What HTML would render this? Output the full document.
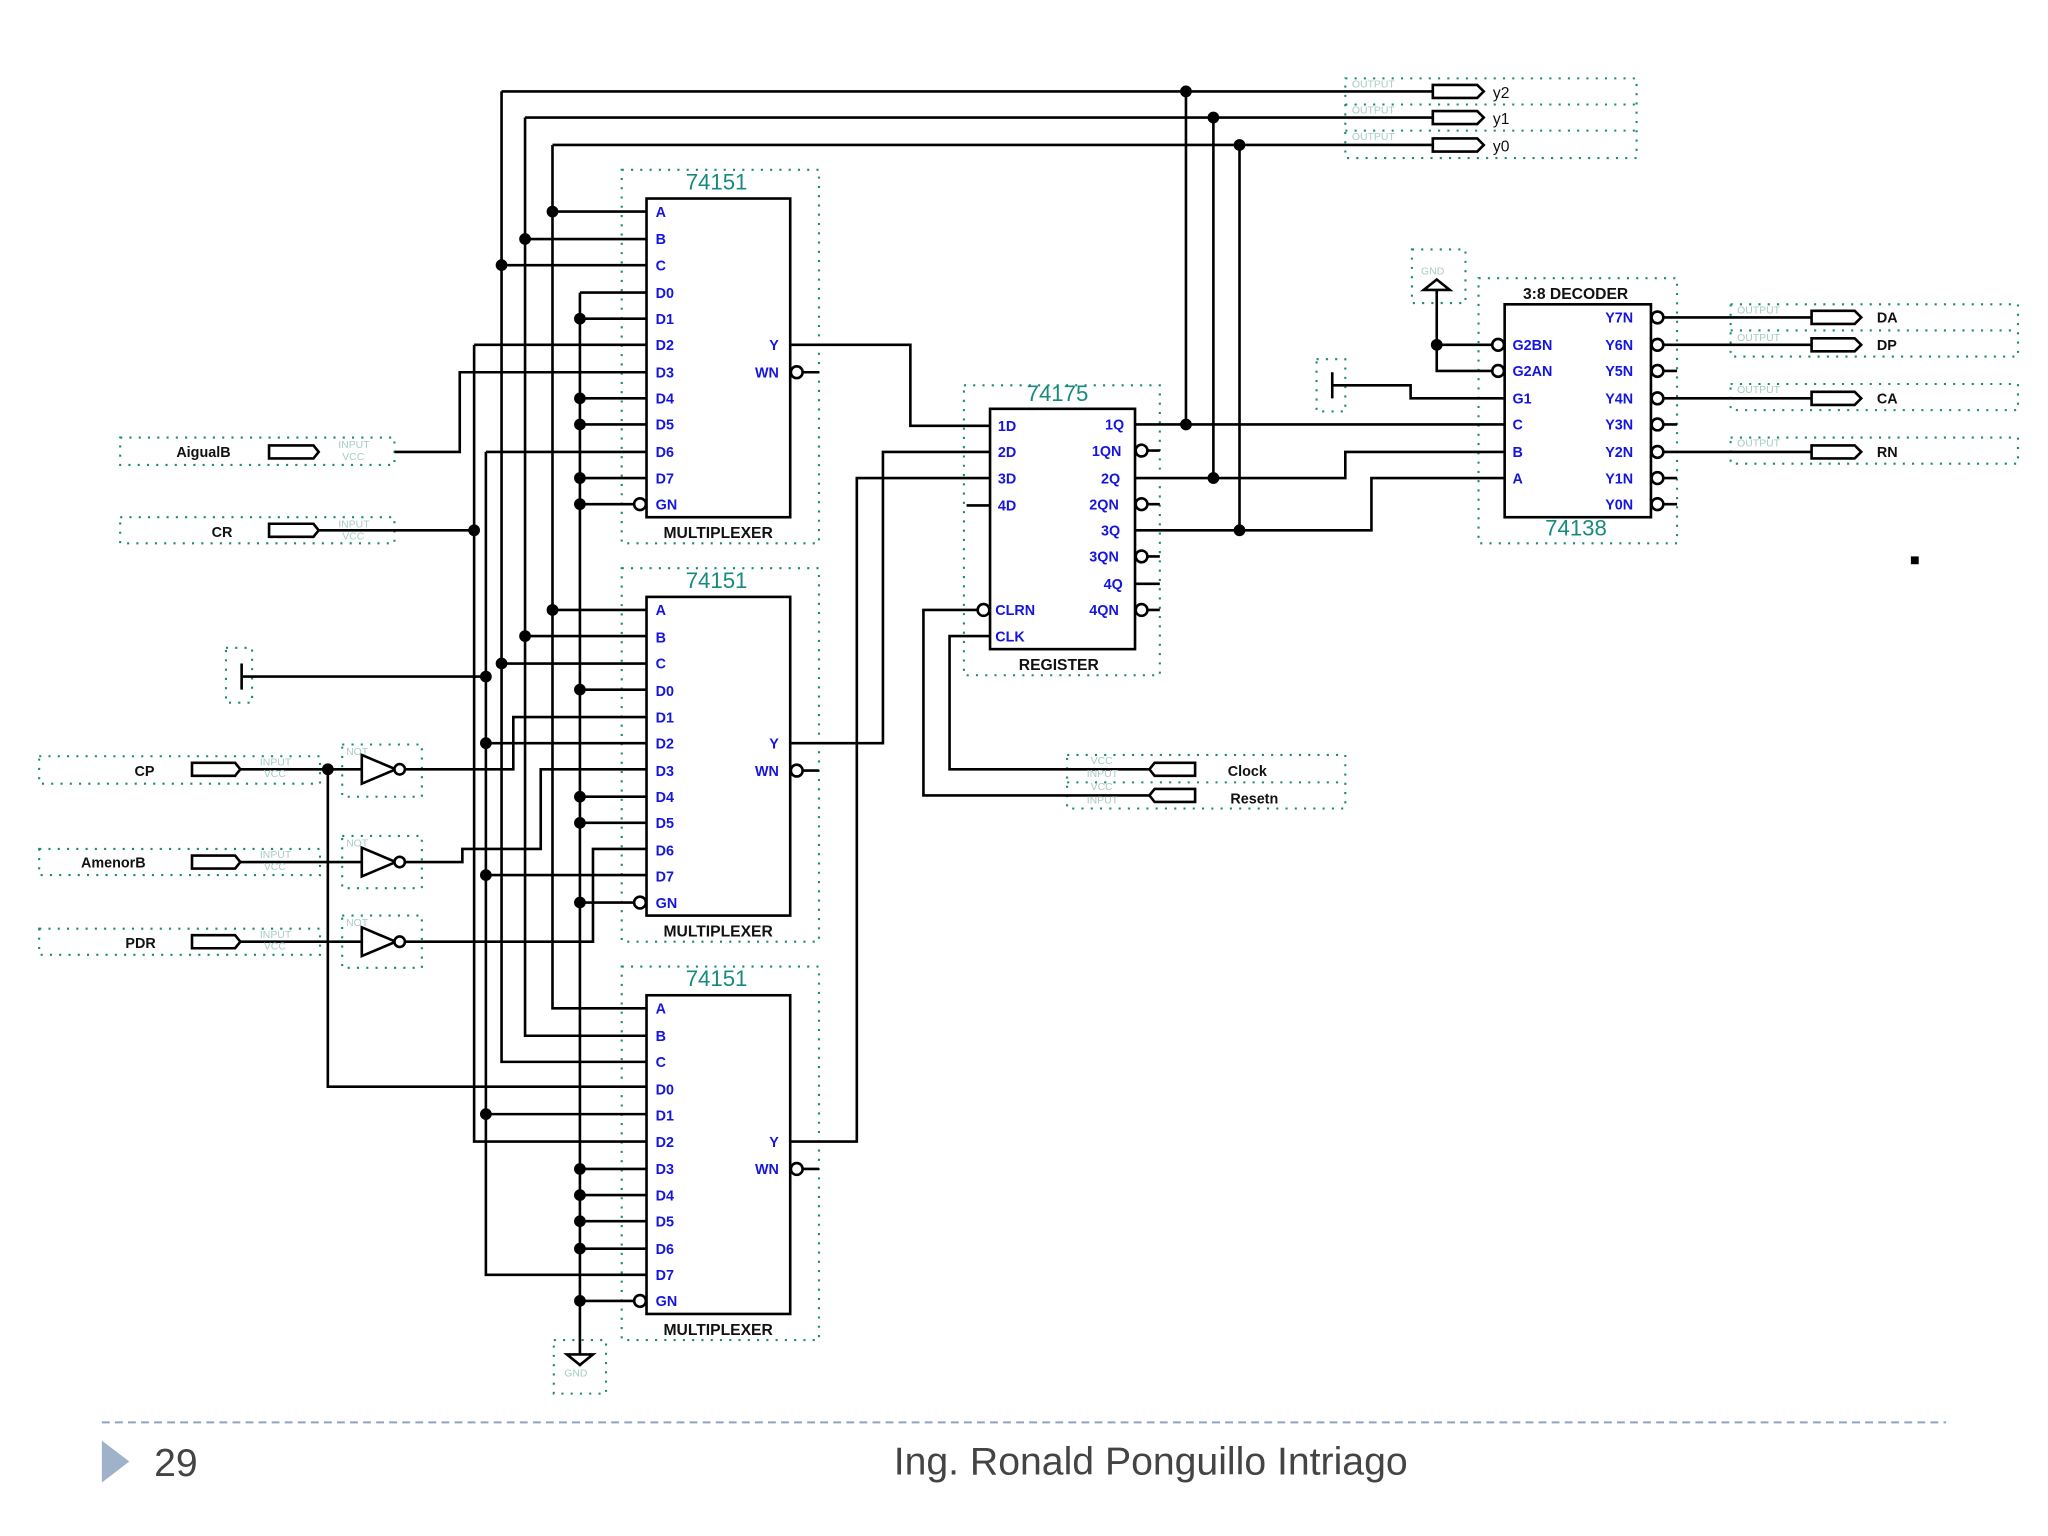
<!DOCTYPE html>
<html><head><meta charset="utf-8"><style>
html,body{margin:0;padding:0;background:#fff;}
svg{display:block}
.w{stroke:#000;stroke-width:2;fill:none}
.d{stroke:#1a8a78;stroke-width:1.6;fill:none;stroke-dasharray:1.6 5.5}
.b{stroke:#000;stroke-width:2;fill:#fff}
.bl{font-family:"Liberation Sans",sans-serif;font-size:11px;font-weight:bold;fill:#1515e0}
.bk{font-family:"Liberation Sans",sans-serif;font-size:12px;font-weight:bold;fill:#111}
.tl{font-family:"Liberation Sans",sans-serif;font-size:17px;fill:#178a80}
</style></head><body>
<svg width="2048" height="1536" viewBox="0 0 1568 1176" xmlns="http://www.w3.org/2000/svg">
<rect width="1568" height="1176" fill="#fff"/>
<!-- dotted component boxes -->
<g class="d">
<rect x="476" y="130" width="151" height="286"/>
<rect x="476" y="435" width="151" height="286"/>
<rect x="476" y="740" width="151" height="286"/>
<rect x="738" y="295" width="150" height="222"/>
<rect x="1132" y="213" width="152" height="203"/>
<rect x="1030" y="60" width="223" height="61"/><line x1="1030" y1="80" x2="1253" y2="80"/><line x1="1030" y1="100" x2="1253" y2="100"/>
<rect x="1081" y="191" width="41" height="41"/>
<rect x="1008" y="275" width="22" height="40"/>
<rect x="1325" y="233" width="220" height="40"/><line x1="1325" y1="253" x2="1545" y2="253"/>
<rect x="1325" y="294" width="220" height="20"/>
<rect x="1325" y="335" width="220" height="20"/>
<rect x="92" y="335" width="210" height="21"/>
<rect x="92" y="396" width="210" height="20"/>
<rect x="173" y="496" width="20" height="42"/>
<rect x="30" y="579" width="215" height="21"/>
<rect x="30" y="650" width="215" height="20"/>
<rect x="30" y="711" width="215" height="20"/>
<rect x="262" y="570" width="61" height="40"/>
<rect x="262" y="640" width="61" height="40"/>
<rect x="262" y="701" width="61" height="40"/>
<rect x="817" y="578" width="213" height="41"/><line x1="817" y1="599" x2="1030" y2="599"/>
<rect x="424" y="1026" width="40" height="41"/>
</g>

<!-- wires -->
<g class="w">
<!-- vertical buses -->
<path d="M384 70V813H495M402 90V793H495M423 111V772H495"/>
<path d="M444 224V1040M363 264V874H495M372 346V976H495M251 589V832H495"/>
<!-- top lines to outputs -->
<path d="M384 70H1097M402 90H1097M423 111H1097"/>
<!-- mux1 -->
<path d="M423 162H495M402 183H495M384 203H495M444 224H495M444 244H495M363 264H495M302 346H352V285H495M444 305H495M444 325H495M372 346H495M444 366H495M444 386H486"/>
<!-- mux2 -->
<path d="M423 467H495M402 487H495M384 508H495M444 528H495M372 569H495M444 610H495M444 630H495M372 670H495M444 691H486"/>
<path d="M310 589H393V549H495M310 660H354V650H414V589H495M310 721H454V650H495"/>
<!-- mux3 -->
<path d="M372 853H495M444 895H495M444 915H495M444 935H495M444 956H495M444 996H486"/>
<!-- inputs -->
<path d="M244 406H363M186 518H372M184 589H277M184 660H277M184 721H277"/>
<!-- mux outputs -->
<path d="M605 264H697V326H758M605 569H676V346H758M605 874H656V366H758M740 387H758"/>
<path d="M614 285H627M614 590H627M614 895H627"/>
<!-- register outputs -->
<path d="M869 325H1152M869 366H1030V346H1152M869 406H1050V366H1152"/>
<path d="M908 70V325M929 90V366M949 111V406"/>
<path d="M869 345H888M869 386H888M869 426H888M869 447H888M869 467H888"/>
<!-- clock / reset -->
<path d="M880 589H727V487H758M880 609H707V467H749"/>
<!-- decoder inputs -->
<path d="M1100 222V284H1143M1100 264H1143M1020 295H1080V305H1152"/>
<!-- decoder outputs -->
<path d="M1274 243H1387M1274 264H1387M1274 305H1387M1274 346H1387M1274 284H1284M1274 325H1284M1274 366H1284M1274 386H1284"/>
<!-- GND bottom -->
<path d="M444 1040V1046"/>
</g>

<!-- dots -->
<g fill="#000">
<circle cx="423" cy="162" r="4.5"/><circle cx="402" cy="183" r="4.5"/><circle cx="384" cy="203" r="4.5"/>
<circle cx="444" cy="244" r="4.5"/><circle cx="444" cy="305" r="4.5"/><circle cx="444" cy="325" r="4.5"/><circle cx="444" cy="366" r="4.5"/><circle cx="444" cy="386" r="4.5"/>
<circle cx="423" cy="467" r="4.5"/><circle cx="402" cy="487" r="4.5"/><circle cx="384" cy="508" r="4.5"/><circle cx="444" cy="528" r="4.5"/>
<circle cx="372" cy="569" r="4.5"/><circle cx="444" cy="610" r="4.5"/><circle cx="444" cy="630" r="4.5"/><circle cx="372" cy="670" r="4.5"/><circle cx="444" cy="691" r="4.5"/>
<circle cx="372" cy="853" r="4.5"/><circle cx="444" cy="895" r="4.5"/><circle cx="444" cy="915" r="4.5"/><circle cx="444" cy="935" r="4.5"/><circle cx="444" cy="956" r="4.5"/><circle cx="444" cy="996" r="4.5"/>
<circle cx="363" cy="406" r="4.5"/><circle cx="372" cy="518" r="4.5"/><circle cx="251" cy="589" r="4.5"/>
<circle cx="908" cy="70" r="4.5"/><circle cx="929" cy="90" r="4.5"/><circle cx="949" cy="111" r="4.5"/>
<circle cx="908" cy="325" r="4.5"/><circle cx="929" cy="366" r="4.5"/><circle cx="949" cy="406" r="4.5"/>
<circle cx="1100" cy="264" r="4.5"/>
<rect x="1463" y="426" width="6" height="6"/>
</g>

<!-- component bodies -->
<g class="b">
<rect x="495" y="152" width="110" height="244"/>
<rect x="495" y="457" width="110" height="244"/>
<rect x="495" y="762" width="110" height="244"/>
<rect x="758" y="313" width="111" height="184"/>
<rect x="1152" y="233" width="112" height="163"/>
<!-- bubbles -->
<circle cx="490" cy="386" r="4.5"/><circle cx="490" cy="691" r="4.5"/><circle cx="490" cy="996" r="4.5"/>
<circle cx="610" cy="285" r="4.5"/><circle cx="610" cy="590" r="4.5"/><circle cx="610" cy="895" r="4.5"/>
<circle cx="874" cy="345" r="4.5"/><circle cx="874" cy="386" r="4.5"/><circle cx="874" cy="426" r="4.5"/><circle cx="874" cy="467" r="4.5"/>
<circle cx="753" cy="467" r="4.5"/>
<circle cx="1147" cy="264" r="4.5"/><circle cx="1147" cy="284" r="4.5"/>
<circle cx="1269" cy="243" r="4.5"/><circle cx="1269" cy="264" r="4.5"/><circle cx="1269" cy="284" r="4.5"/><circle cx="1269" cy="305" r="4.5"/><circle cx="1269" cy="325" r="4.5"/><circle cx="1269" cy="346" r="4.5"/><circle cx="1269" cy="366" r="4.5"/><circle cx="1269" cy="386" r="4.5"/>
<!-- inverters -->
<path d="M277 578L303 589L277 600Z"/><circle cx="306" cy="589" r="4"/>
<path d="M277 649L303 660L277 671Z"/><circle cx="306" cy="660" r="4"/>
<path d="M277 710L303 721L277 732Z"/><circle cx="306" cy="721" r="4"/>
<!-- input pins -->
<path d="M206 341H240L244 346L240 351H206Z"/>
<path d="M206 401H240L244 406L240 411H206Z"/>
<path d="M147 584H180L184 589L180 594H147Z"/>
<path d="M147 655H180L184 660L180 665H147Z"/>
<path d="M147 716H180L184 721L180 726H147Z"/>
<path d="M880 589L884 584H915V594H884Z"/>
<path d="M880 609L884 604H915V614H884Z"/>
<!-- output pins -->
<path d="M1097 65H1131L1136 70L1131 75H1097Z"/>
<path d="M1097 85H1131L1136 90L1131 95H1097Z"/>
<path d="M1097 106H1131L1136 111L1131 116H1097Z"/>
<path d="M1387 238H1420L1425 243L1420 248H1387Z"/>
<path d="M1387 259H1420L1425 264L1420 269H1387Z"/>
<path d="M1387 300H1420L1425 305L1420 310H1387Z"/>
<path d="M1387 341H1420L1425 346L1420 351H1387Z"/>
<!-- gnd / vcc -->
<path d="M1090 222H1110L1100 214Z"/>
<path d="M434 1037H454L444 1045Z"/>
</g>
<g class="w"><path d="M185 508V528M1020 285V305"/></g>

<!-- mux labels -->
<g class="bl">
<text x="502" y="166">A</text><text x="502" y="187">B</text><text x="502" y="207">C</text><text x="502" y="228">D0</text><text x="502" y="248">D1</text><text x="502" y="268">D2</text><text x="502" y="289">D3</text><text x="502" y="309">D4</text><text x="502" y="329">D5</text><text x="502" y="350">D6</text><text x="502" y="370">D7</text><text x="502" y="390">GN</text><text x="589" y="268">Y</text><text x="578" y="289">WN</text>
<text x="502" y="471">A</text><text x="502" y="492">B</text><text x="502" y="512">C</text><text x="502" y="533">D0</text><text x="502" y="553">D1</text><text x="502" y="573">D2</text><text x="502" y="594">D3</text><text x="502" y="614">D4</text><text x="502" y="634">D5</text><text x="502" y="655">D6</text><text x="502" y="675">D7</text><text x="502" y="695">GN</text><text x="589" y="573">Y</text><text x="578" y="594">WN</text>
<text x="502" y="776">A</text><text x="502" y="797">B</text><text x="502" y="817">C</text><text x="502" y="838">D0</text><text x="502" y="858">D1</text><text x="502" y="878">D2</text><text x="502" y="899">D3</text><text x="502" y="919">D4</text><text x="502" y="939">D5</text><text x="502" y="960">D6</text><text x="502" y="980">D7</text><text x="502" y="1000">GN</text><text x="589" y="878">Y</text><text x="578" y="899">WN</text>
<!-- register -->
<text x="764" y="330">1D</text><text x="764" y="350">2D</text><text x="764" y="370">3D</text><text x="764" y="391">4D</text><text x="762" y="471">CLRN</text><text x="762" y="491">CLK</text>
<text x="846" y="329">1Q</text><text x="836" y="349">1QN</text><text x="843" y="370">2Q</text><text x="834" y="390">2QN</text><text x="843" y="410">3Q</text><text x="834" y="430">3QN</text><text x="845" y="451">4Q</text><text x="834" y="471">4QN</text>
<!-- decoder -->
<text x="1158" y="268">G2BN</text><text x="1158" y="288">G2AN</text><text x="1158" y="309">G1</text><text x="1158" y="329">C</text><text x="1158" y="350">B</text><text x="1158" y="370">A</text>
<text x="1229" y="247">Y7N</text><text x="1229" y="268">Y6N</text><text x="1229" y="288">Y5N</text><text x="1229" y="309">Y4N</text><text x="1229" y="329">Y3N</text><text x="1229" y="350">Y2N</text><text x="1229" y="370">Y1N</text><text x="1229" y="390">Y0N</text>
</g>
<g class="tl">
<text x="525" y="145">74151</text><text x="525" y="450">74151</text><text x="525" y="755">74151</text>
<text x="786" y="307">74175</text><text x="1183" y="410">74138</text>
</g>
<g class="bk">
<text x="508" y="412">MULTIPLEXER</text><text x="508" y="717">MULTIPLEXER</text><text x="508" y="1022">MULTIPLEXER</text>
<text x="780" y="513">REGISTER</text><text x="1166" y="229">3:8 DECODER</text>
<text x="135" y="350" font-size="11">AigualB</text><text x="162" y="411" font-size="11">CR</text>
<text x="103" y="594" font-size="11">CP</text><text x="62" y="664" font-size="11">AmenorB</text><text x="96" y="726" font-size="11">PDR</text>
<text x="940" y="594" font-size="11">Clock</text><text x="942" y="615" font-size="11">Resetn</text>
<text x="1437" y="247" font-size="11">DA</text><text x="1437" y="268" font-size="11">DP</text><text x="1437" y="309" font-size="11">CA</text><text x="1437" y="350" font-size="11">RN</text>
<text x="1143" y="75" font-size="12" font-weight="normal">y2</text><text x="1143" y="95" font-size="12" font-weight="normal">y1</text><text x="1143" y="116" font-size="12" font-weight="normal">y0</text>
</g>
<!-- faint pin captions -->
<g font-family="Liberation Sans,sans-serif" font-size="8" fill="#a8ccc4">
<text x="259" y="343">INPUT</text><text x="262" y="352">VCC</text><text x="259" y="404">INPUT</text><text x="262" y="413">VCC</text>
<text x="199" y="586">INPUT</text><text x="202" y="595">VCC</text><text x="199" y="657">INPUT</text><text x="202" y="666">VCC</text><text x="199" y="718">INPUT</text><text x="202" y="727">VCC</text>
<text x="835" y="585">VCC</text><text x="832" y="595">INPUT</text><text x="835" y="605">VCC</text><text x="832" y="615">INPUT</text>
<text x="1035" y="67">OUTPUT</text><text x="1035" y="87">OUTPUT</text><text x="1035" y="107">OUTPUT</text>
<text x="1330" y="240">OUTPUT</text><text x="1330" y="261">OUTPUT</text><text x="1330" y="301">OUTPUT</text><text x="1330" y="342">OUTPUT</text>
<text x="265" y="578">NOT</text><text x="265" y="648">NOT</text><text x="265" y="709">NOT</text>
<text x="1088" y="210">GND</text><text x="432" y="1054">GND</text>
</g>

<!-- footer -->
<line x1="78" y1="1089" x2="1490" y2="1089" stroke="#8ea4bf" stroke-width="1.5" stroke-dasharray="6 4"/>
<path d="M78 1103L99 1119L78 1135Z" fill="#9fb2c9"/>
<text x="118" y="1130" font-family="Liberation Sans,sans-serif" font-size="30" fill="#444">29</text>
<text x="881" y="1129" text-anchor="middle" font-family="Liberation Sans,sans-serif" font-size="30" fill="#444">Ing. Ronald Ponguillo Intriago</text>
</svg>
</body></html>
